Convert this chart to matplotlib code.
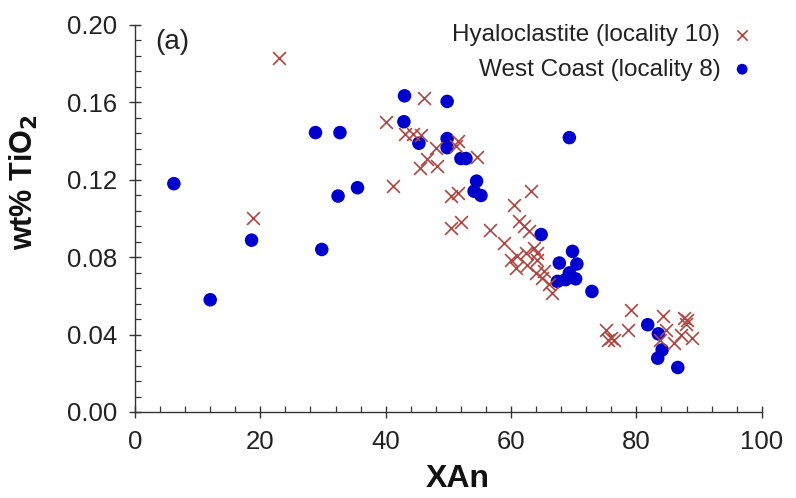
import numpy as np
import matplotlib
matplotlib.use("Agg")
import matplotlib.pyplot as plt
from matplotlib.ticker import MultipleLocator, FormatStrFormatter

# hyaloclastite (locality 10) - crosses
hy_xan = [18.8, 22.9, 40.0, 41.1, 43.0, 44.3, 45.6, 46.1, 48.0, 46.6,
          45.5, 48.2, 51.5, 51.2, 54.5, 50.4, 51.6, 50.4, 52.0, 56.7,
          58.9, 60.4, 63.2, 61.3, 62.1, 62.9, 60.0, 61.0, 62.4, 63.7,
          64.2, 60.8, 62.6, 64.2, 65.3, 65.0, 66.6, 64.0, 66.0, 79.2,
          75.1, 75.9, 76.4, 75.4, 78.7, 84.2, 84.7, 86.0, 87.6, 88.1,
          87.9, 87.1, 88.9, 83.8]
hy_tio2 = [0.100, 0.183, 0.150, 0.117, 0.1435, 0.1435, 0.143, 0.1625, 0.1366, 0.131,
           0.126, 0.127, 0.140, 0.1375, 0.132, 0.1116, 0.1133, 0.095, 0.098, 0.094,
           0.0874, 0.107, 0.114, 0.0986, 0.096, 0.0934, 0.0788, 0.0805, 0.0822, 0.0848,
           0.082, 0.0744, 0.0762, 0.0788, 0.0727, 0.0692, 0.0615, 0.072, 0.066, 0.0525,
           0.0425, 0.038, 0.0373, 0.0373, 0.0425, 0.0494, 0.0425, 0.0356, 0.0485, 0.0477,
           0.0456, 0.040, 0.038, 0.037]

# west coast (locality 8) - dots
wc_xan = [6.2, 12.0, 18.6, 29.8, 28.8, 32.7, 32.4, 35.5, 43.0, 42.9,
          49.8, 45.3, 49.8, 49.8, 52.0, 52.8, 54.5, 54.1, 55.2, 69.3,
          64.8, 67.7, 69.8, 70.5, 69.3, 67.4, 68.7, 70.3, 72.9, 81.8,
          83.5, 84.1, 83.4, 86.6]
wc_tio2 = [0.118, 0.058, 0.0888, 0.084, 0.1444, 0.1444, 0.1116, 0.1159, 0.1634, 0.150,
           0.1605, 0.1389, 0.1413, 0.1366, 0.131, 0.131, 0.1193, 0.1141, 0.1119, 0.1418,
           0.0917, 0.077, 0.083, 0.0765, 0.0719, 0.0675, 0.0684, 0.0688, 0.0623, 0.0451,
           0.0404, 0.0321, 0.0278, 0.023]

plt.rcParams['font.family'] = ['Liberation Sans', 'DejaVu Sans']

fig = plt.figure(figsize=(7.96, 4.98), dpi=100)
ax = fig.add_axes([0.1696, 0.1727, 0.7874, 0.7771])

ax.scatter(hy_xan, hy_tio2, marker='x', s=85, color='#b0463f', linewidths=1.2,
           label='Hyaloclastite (locality 10)', zorder=3)
ax.scatter(wc_xan, wc_tio2, marker='o', s=95, color='#0000cc', edgecolors='none',
           label='West Coast (locality 8)', zorder=2)

ax.set_xlim(0, 100)
ax.set_ylim(0, 0.20)
ax.xaxis.set_major_locator(MultipleLocator(20))
ax.xaxis.set_minor_locator(MultipleLocator(4))
ax.yaxis.set_major_locator(MultipleLocator(0.04))
ax.yaxis.set_minor_locator(MultipleLocator(0.008))
ax.yaxis.set_major_formatter(FormatStrFormatter('%.2f'))

for s in ['top', 'right']:
    ax.spines[s].set_visible(False)
for s in ['left', 'bottom']:
    ax.spines[s].set_color('#333333')
    ax.spines[s].set_linewidth(1.0)

ax.tick_params(which='major', direction='inout', length=8, width=1.0,
               labelsize=18.5, pad=9, colors='#333333', labelcolor='#222222')
ax.tick_params(which='minor', direction='in', length=4, width=0.9, colors='#333333')

ax.set_xlabel('XAn', fontsize=23, fontweight='bold', color='#111111')
ax.set_ylabel('wt% TiO$_\\mathbf{2}$', fontsize=22, fontweight='bold', color='#111111')
ax.xaxis.set_label_coords(0.515, -0.135)
ax.yaxis.set_label_coords(-0.152, 0.593)

ax.text(0.032, 0.956, '(a)', transform=ax.transAxes, fontsize=20,
        va='center', ha='left', color='#222222')

leg = ax.legend(loc='upper right', bbox_to_anchor=(1.023, 1.058), frameon=False,
                markerfirst=False, fontsize=17.5, handletextpad=0.4,
                labelspacing=0.5, handlelength=1.0, markerscale=0.8)
for t in leg.get_texts():
    t.set_color('#222222')

fig.savefig('out.png', dpi=100)
